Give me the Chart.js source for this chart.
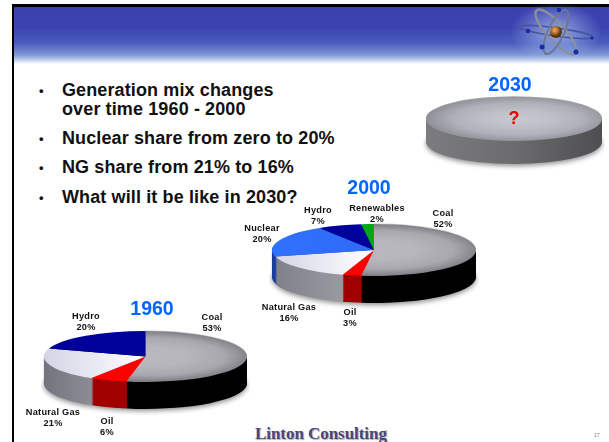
<!DOCTYPE html>
<html><head><meta charset="utf-8">
<script src="https://cdn.jsdelivr.net/npm/chart.js@4"></script>
<style>
html,body{margin:0;padding:0;background:#fff}
#page{position:relative;width:609px;height:442px;overflow:hidden;background:#fff;font-family:"Liberation Sans",Arial,sans-serif;filter:blur(0.35px)}
#frameTop{position:absolute;left:12px;top:4px;right:0;height:2.5px;background:#000}
#frameLeft{position:absolute;left:12px;top:4px;bottom:0;width:2px;background:#000}
#band{position:absolute;left:14px;top:6px;right:0;height:58px;background:linear-gradient(#3a3fae 0%,#3c43b0 38%,#4a5cbc 64%,#7f97d6 84%,#cfdcf3 95%,#fff 100%)}
#atom{position:absolute;left:505px;top:0;width:104px;height:70px}
canvas{position:absolute}
.b{position:absolute;left:62px;font-weight:bold;font-size:18px;line-height:19px;color:#111;white-space:nowrap;letter-spacing:.12px}
.d{position:absolute;left:39px;font-size:13px;line-height:19px;color:#111;font-weight:bold}
.lab{position:absolute;transform:translateX(-50%);font-weight:bold;font-size:9.2px;line-height:10.5px;text-align:center;color:#111;white-space:nowrap;letter-spacing:.25px}
.yr{position:absolute;transform:translate(-50%,-50%);font-weight:bold;font-size:19.5px;color:#0066ff}
#q{position:absolute;left:514px;top:118px;transform:translate(-50%,-50%);font-weight:bold;font-size:18px;color:#ee0000}
#logo{position:absolute;left:255px;top:424px;font-family:"Liberation Serif",serif;font-weight:bold;font-size:17px;color:#4c4580;text-shadow:1px 1px 1px #aaa;white-space:nowrap;letter-spacing:-.05px}
#num{position:absolute;left:594px;top:432px;font-size:5px;color:#777}
</style></head>
<body>
<div id="page">
<div id="band"></div><div id="frameTop"></div><div id="frameLeft"></div>
<svg id="atom" viewBox="0 0 104 70">
<defs><radialGradient id="glow"><stop offset="0" stop-color="#a9c2f0" stop-opacity=".8"/><stop offset="1" stop-color="#a9c2f0" stop-opacity="0"/></radialGradient>
<radialGradient id="core" cx=".4" cy=".35"><stop offset="0" stop-color="#f0b060"/><stop offset=".6" stop-color="#b06a20"/><stop offset="1" stop-color="#553311"/></radialGradient></defs>
<ellipse cx="51" cy="32" rx="46" ry="30" fill="url(#glow)"/>
<g fill="none">
<ellipse cx="51" cy="32" rx="37" ry="4" transform="rotate(8 51 32)" stroke="#46559e" stroke-width="1.5"/>
<ellipse cx="51" cy="32" rx="29" ry="9" transform="rotate(48 51 32)" stroke="#8a8f9e" stroke-width="2.5"/>
<ellipse cx="51" cy="32" rx="24" ry="8" transform="rotate(-65 51 32)" stroke="#6e7696" stroke-width="2"/>
</g>
<circle cx="51" cy="32" r="6" fill="url(#core)"/>
<g fill="#1a2aa8"><circle cx="54" cy="10" r="2.3"/><circle cx="23" cy="31" r="2.3"/><circle cx="37" cy="47" r="2.5"/><circle cx="71" cy="52" r="2.5"/><circle cx="87" cy="38" r="1.8"/></g>
</svg>
<div class="d" style="top:81px">•</div><div class="b" style="top:81px">Generation mix changes<br>over time 1960 - 2000</div>
<div class="d" style="top:129px">•</div><div class="b" style="top:129px">Nuclear share from zero to 20%</div>
<div class="d" style="top:158px">•</div><div class="b" style="top:158px">NG share from 21% to 16%</div>
<div class="d" style="top:188px">•</div><div class="b" style="top:188px">What will it be like in 2030?</div>
</div>
<script>
// ---- data ----
const categories1960 = ["Coal","Oil","Natural Gas","Hydro"];
const values1960 = [53,6,21,20];
const categories2000 = ["Coal","Oil","Natural Gas","Nuclear","Hydro","Renewables"];
const values2000 = [52,3,16,20,7,2];
const categories2030 = ["?"];
const values2030 = [100];

// ---- styles ----
const coalTop = {r:["#b8b8be","#b6b6bc","#a8a8ae","#6c6c72"]};
const ngTop = {h:["#d4d4e6","#ffffff","#ffffff"]};
const ngSide = {h:["#74747e","#a8a8ae","#b4b4b8"]};
const top1960 = [coalTop,"#ff0000",ngTop,"#00009a"];
const side1960 = ["#000000","#a00000",ngSide,"#000066"];
const edge1960 = ["#d6d6da",null,null,null];
const top2000 = [coalTop,"#ff0000",ngTop,{h:["#2f72ff","#3060f0"]},"#00009a","#00a818"];
const side2000 = ["#000000","#a00000",{h:["#80808a","#a4a4aa","#b0b0b4"]},"#1a3f9e","#000066","#006600"];
const edge2000 = ["#d6d6da",null,null,null,null,null];
const top2030 = [{r:["#c8c8d0","#c0c0c8","#b0b0b8","#8a8a92"]}];
const side2030 = [{h:["#7c7c7e","#6c6c6e","#4e4e52"]}];
const edge2030 = ["#a4a4a8"];

// ---- layout ----
const pies = [
 {cats:categories1960,vals:values1960,cx:145.5,cy:356,rx:101.5,ry:25.5,depth:27,top:top1960,side:side1960,edge:edge1960},
 {cats:categories2000,vals:values2000,cx:373.5,cy:250,rx:102,ry:26,depth:27,top:top2000,side:side2000,edge:edge2000},
 {cats:categories2030,vals:values2030,cx:514,cy:119,rx:88,ry:22,depth:23,top:top2030,side:side2030,edge:edge2030}
];
const titles = [["1960",152,308],["2000",369,187],["2030",510,84]];
const labelAt1960 = [[212,312],[107,416],[53,407],[86,311]];
const labelAt2000 = [[443,208],[350,307],[289,302],[262,223],[318,205],[377,203]];

function paint(ctx,spec,g){
  if(typeof spec==="string") return spec;
  let gr;
  if(spec.h){
    gr = ctx.createLinearGradient(g.x-g.rx,0,g.x+g.rx,0);
    spec.h.forEach((c,i)=>gr.addColorStop(i/(spec.h.length-1),c));
  } else {
    gr = ctx.createRadialGradient(g.x+g.rx*.05,g.y,0,g.x+g.rx*.05,g.y,g.rx*1.1);
    spec.r.forEach((c,i)=>gr.addColorStop(i/(spec.r.length-1),c));
  }
  return gr;
}

// flattens the pie to an ellipse and extrudes its rim
function tilt(p,g){
  const k=p.ry/p.rx;
  return {
    id:"tilt",
    beforeDatasetsDraw(chart){
      const ctx=chart.ctx, arcs=chart.getDatasetMeta(0).data;
      const place=(d)=>{ctx.translate(g.x,g.y+d);ctx.scale(1,k);ctx.translate(-g.x,-g.y);};
      const layer=(colors)=>arcs.forEach((a,i)=>{
        if(!colors[i]) return;
        const ghost=Object.create(a);
        ghost.options=Object.assign({},a.options,{backgroundColor:paint(ctx,colors[i],g)});
        ghost.draw(ctx);
      });
      for(let d=p.depth;d>=1;d--){
        ctx.save();
        place(d);
        if(d===p.depth){ctx.shadowColor="rgba(0,0,0,.45)";ctx.shadowBlur=5;ctx.shadowOffsetY=2;}
        layer(p.side);
        ctx.restore();
      }
      ctx.save();
      place(-0.8);
      layer(p.edge);
      ctx.restore();
      ctx.save();
      place(0);
    },
    afterDatasetsDraw(chart){chart.ctx.restore();}
  };
}

const page=document.getElementById("page");
const add=(cls,html,x,y,id)=>{const e=document.createElement("div");e.className=cls;e.innerHTML=html;if(x!=null){e.style.left=x+"px";e.style.top=y+"px";}if(id)e.id=id;page.appendChild(e);};

pies.forEach(p=>{
  const S=Math.ceil(p.rx*2)+6;
  const g={x:S/2,y:S/2,rx:p.rx};
  const cv=document.createElement("canvas");
  cv.width=S;cv.height=S;cv.style.width=S+"px";cv.style.height=S+"px";
  cv.style.left=(p.cx-S/2)+"px";cv.style.top=(p.cy-S/2)+"px";
  page.appendChild(cv);
  new Chart(cv,{type:"pie",
    data:{labels:p.cats,datasets:[{data:p.vals,borderWidth:0,clip:false,
      backgroundColor:(c)=>paint(c.chart.ctx,p.top[c.dataIndex],g)}]},
    options:{responsive:false,animation:false,radius:p.rx,
      layout:{padding:0},
      plugins:{legend:{display:false},tooltip:{enabled:false}}},
    plugins:[tilt(p,g)]});
});

titles.forEach(t=>add("yr",t[0],t[1],t[2]));
categories1960.forEach((c,i)=>add("lab",c+"<br>"+values1960[i]+"%",labelAt1960[i][0],labelAt1960[i][1]));
categories2000.forEach((c,i)=>add("lab",c+"<br>"+values2000[i]+"%",labelAt2000[i][0],labelAt2000[i][1]));
add("",categories2030[0],null,null,"q");
add("","Linton Consulting",null,null,"logo");
add("","17",null,null,"num");
</script>
</body></html>
